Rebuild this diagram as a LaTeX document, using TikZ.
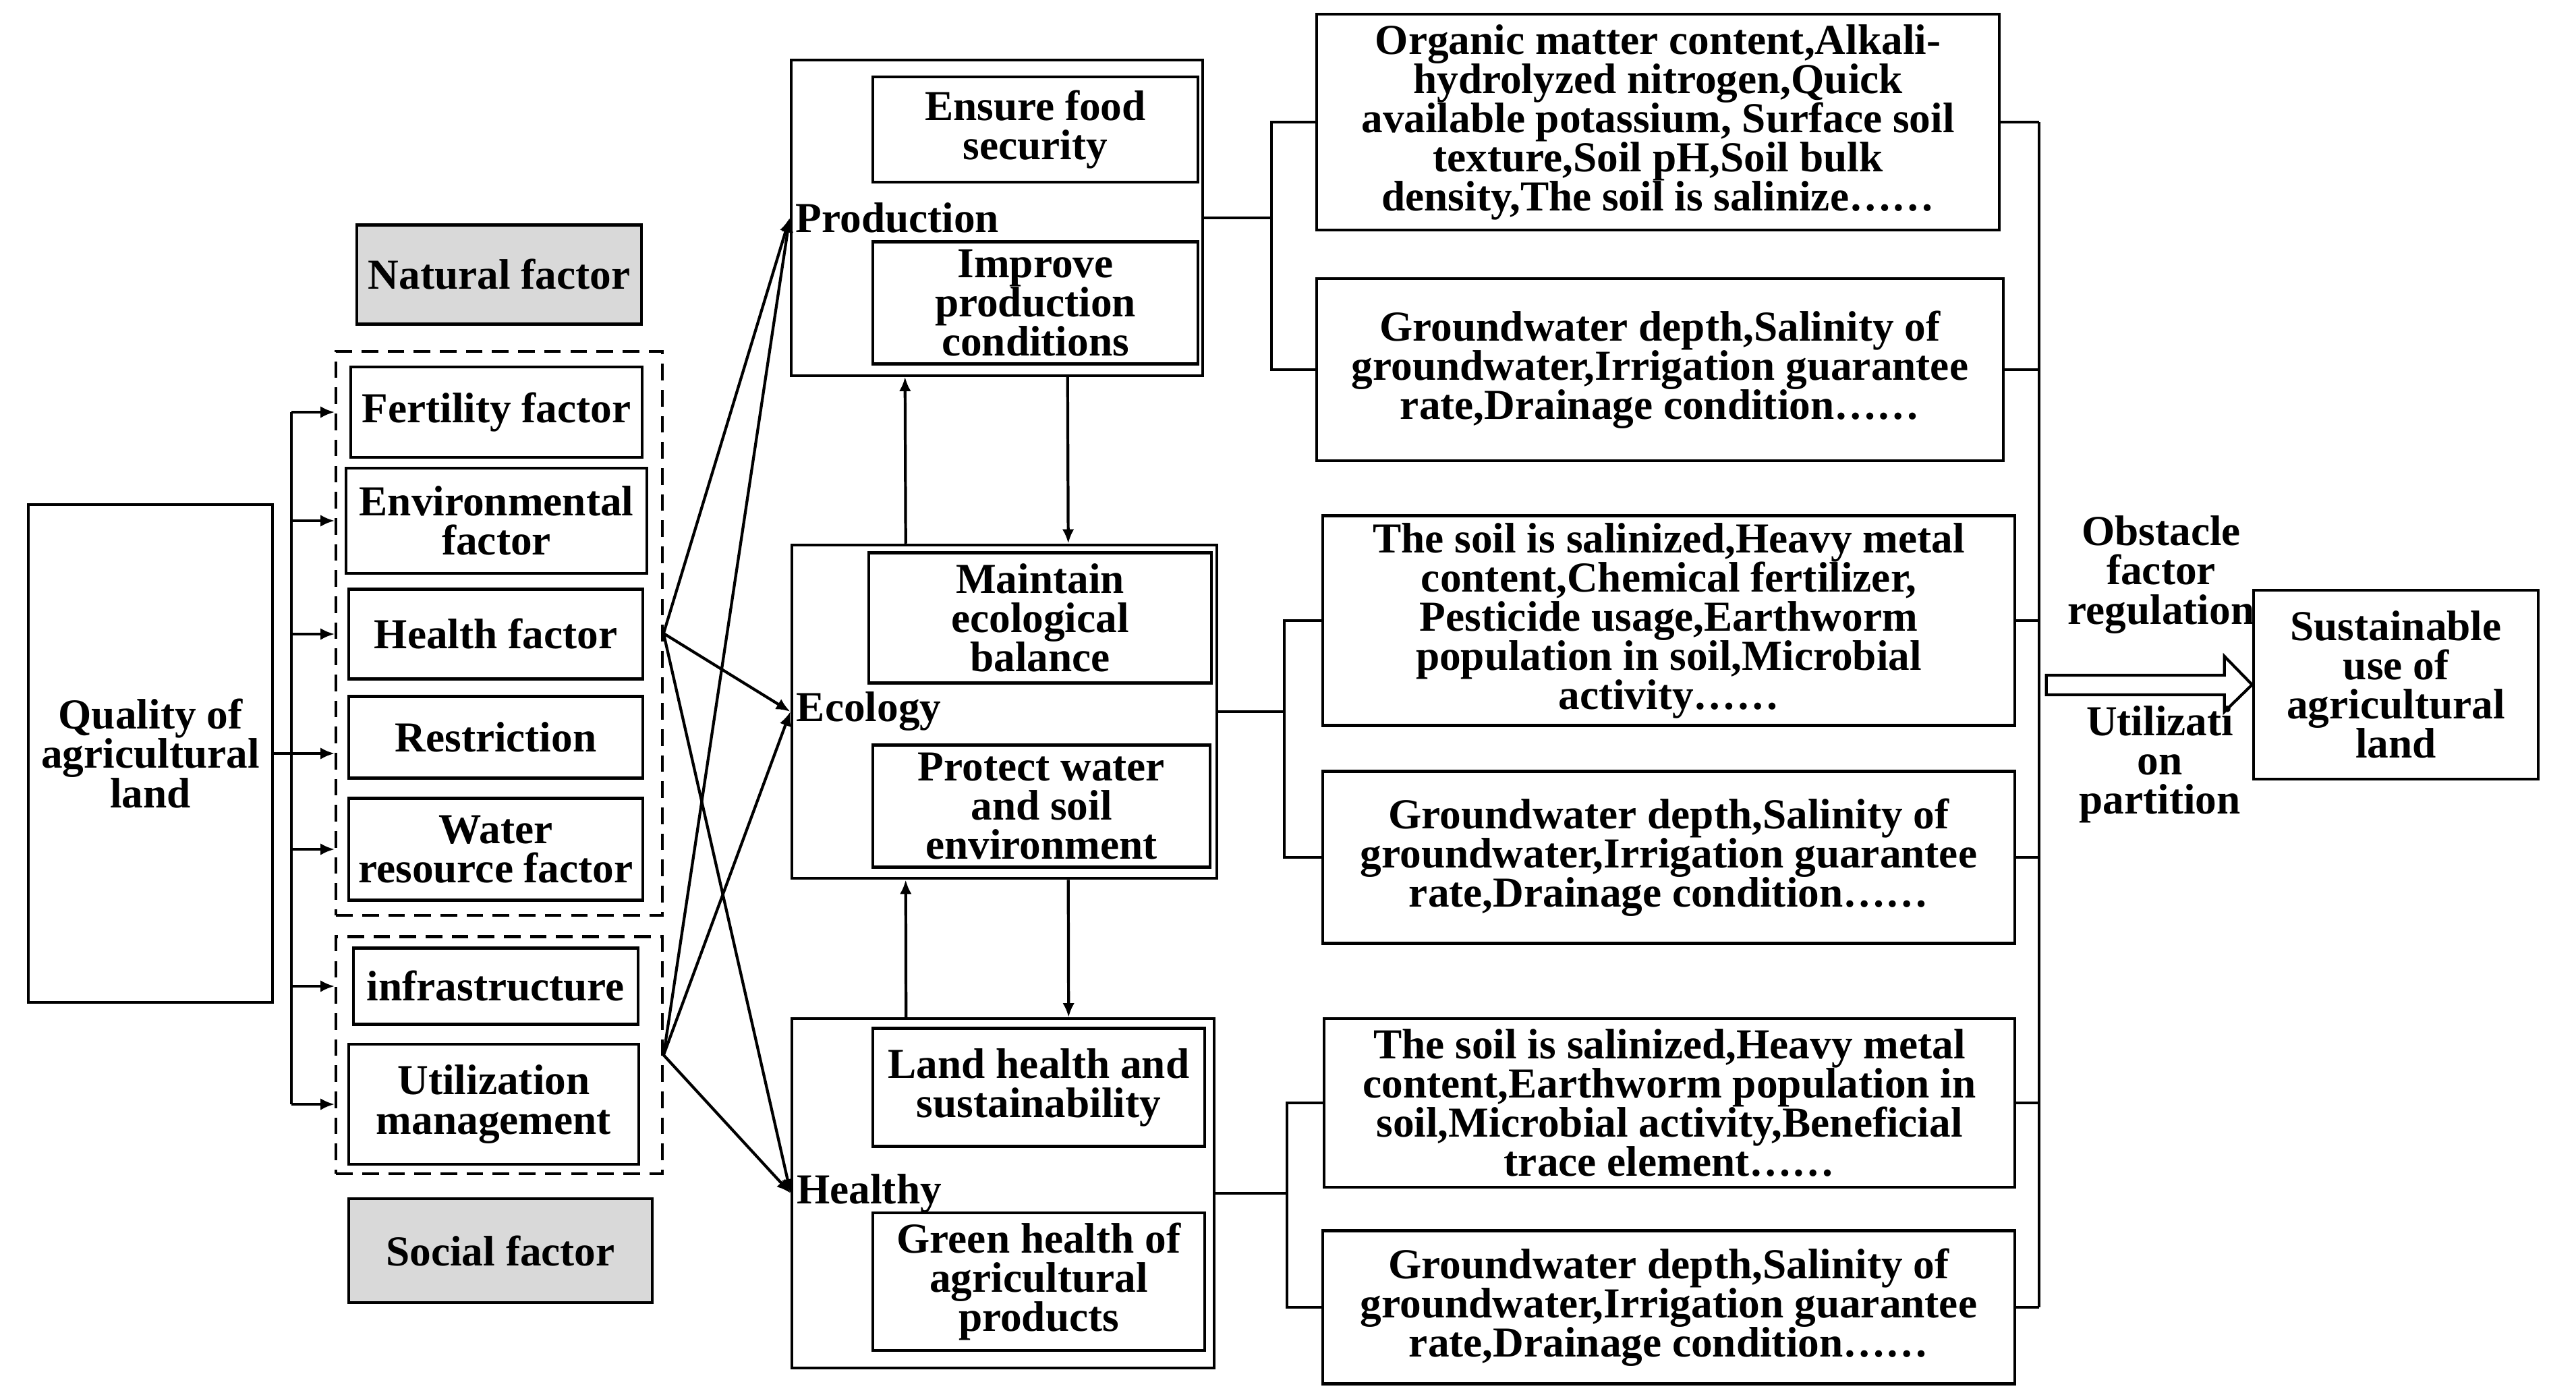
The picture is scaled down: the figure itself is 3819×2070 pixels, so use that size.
\documentclass[tikz,border=0pt]{standalone}
\usepackage{fontspec}
\setmainfont{Liberation Serif}
\usepackage{tikz}
\usetikzlibrary{arrows.meta, calc}
\definecolor{boxgray}{RGB}{217, 217, 217}
\newcommand\boxfont{\fontsize{18}{16.5}\selectfont\bfseries\lineskiplimit=-30pt\relax}

\begin{document}
\begin{tikzpicture}[x=0.01cm, y=-0.01cm, line width=1.2pt,
  >={Latex[length=6pt, width=5pt]},
  box/.style={draw, align=center, inner sep=0pt, font=\boxfont},
  group/.style={draw, dash pattern=on 7pt off 4pt, inner sep=0pt},
  lbl/.style={align=center, inner sep=2pt, font=\boxfont}]

  \useasboundingbox (0,0) rectangle (3819,2070);

  %Left column
  \node[box, minimum width=3.62cm, minimum height=7.38cm] (q) at (223,1117) {Quality of\\agricultural\\land};
  \node[box, fill=boxgray, minimum width=4.21cm, minimum height=1.47cm] (nat) at (740,407) {Natural factor};
  \node[box, minimum width=4.32cm, minimum height=1.34cm] (fert) at (736,611) {Fertility factor};
  \node[box, minimum width=4.45cm, minimum height=1.56cm] (env) at (736,772) {Environmental\\factor};
  \node[box, minimum width=4.35cm, minimum height=1.33cm] (hea) at (735,940) {Health factor};
  \node[box, minimum width=4.35cm, minimum height=1.21cm] (res) at (735,1093) {Restriction};
  \node[box, minimum width=4.35cm, minimum height=1.51cm] (wat) at (735,1259) {Water\\resource factor};
  \node[box, minimum width=4.22cm, minimum height=1.13cm] (inf) at (735,1462) {infrastructure};
  \node[box, minimum width=4.29cm, minimum height=1.78cm] (uti) at (732,1637) {Utilization\\management};
  \node[box, fill=boxgray, minimum width=4.50cm, minimum height=1.54cm] (soc) at (742,1854) {Social factor};
  \node[group, minimum width=4.83cm, minimum height=8.36cm] (d1) at (740,939) {};
  \node[group, minimum width=4.83cm, minimum height=3.51cm] (d2) at (740,1564) {};

  %Middle column
  \node[box, minimum width=6.10cm, minimum height=4.67cm] (prod) at (1478,323) {};
  \node[lbl, anchor=west] (prodl) at (prod.west) {Production};
  \node[box, minimum width=4.81cm, minimum height=1.56cm] (efs) at (1535,192) {Ensure food\\security};
  \node[box, minimum width=4.81cm, minimum height=1.81cm] (ipc) at (1535,449) {Improve\\production\\conditions};

  \node[box, minimum width=6.30cm, minimum height=4.94cm] (eco) at (1489,1055) {};
  \node[lbl, anchor=west] (ecol) at (eco.west) {Ecology};
  \node[box, minimum width=5.08cm, minimum height=1.93cm] (meb) at (1542,916) {Maintain\\ecological\\balance};
  \node[box, minimum width=4.99cm, minimum height=1.81cm] (pws) at (1544,1195) {Protect water\\and soil\\environment};

  \node[box, minimum width=6.25cm, minimum height=5.17cm] (hlt) at (1487,1769) {};
  \node[lbl, anchor=west] (hltl) at (hlt.west) {Healthy};
  \node[box, minimum width=4.92cm, minimum height=1.75cm] (lhs) at (1540,1612) {Land health and\\sustainability};
  \node[box, minimum width=4.91cm, minimum height=2.04cm] (ghp) at (1540,1900) {Green health of\\agricultural\\products};

  %Indicators
  \node[box, minimum width=10.11cm, minimum height=3.20cm] (r1) at (2458,181) {Organic matter content,Alkali-\\hydrolyzed nitrogen,Quick\\available potassium, Surface soil\\texture,Soil pH,Soil bulk\\density,The soil is salinize……};
  \node[box, minimum width=10.17cm, minimum height=2.70cm] (r2) at (2461,548) {Groundwater depth,Salinity of\\groundwater,Irrigation guarantee\\rate,Drainage condition……};
  \node[box, minimum width=10.26cm, minimum height=3.11cm] (r3) at (2474,920) {The soil is salinized,Heavy metal\\content,Chemical fertilizer,\\Pesticide usage,Earthworm\\population in soil,Microbial\\activity……};
  \node[box, minimum width=10.26cm, minimum height=2.55cm] (r4) at (2474,1271) {Groundwater depth,Salinity of\\groundwater,Irrigation guarantee\\rate,Drainage condition……};
  \node[box, minimum width=10.24cm, minimum height=2.50cm] (r5) at (2475,1635) {The soil is salinized,Heavy metal\\content,Earthworm population in\\soil,Microbial activity,Beneficial\\trace element……};
  \node[box, minimum width=10.26cm, minimum height=2.27cm] (r6) at (2474,1938) {Groundwater depth,Salinity of\\groundwater,Irrigation guarantee\\rate,Drainage condition……};

  \node[box, minimum width=4.22cm, minimum height=2.80cm] (sus) at (3552,1015) {Sustainable\\use of\\agricultural\\land};
  \node[lbl] (obs) at (3204,852) {Obstacle\\factor\\regulation};
  \node[lbl] (utp) at (3202,1133) {Utilizati\\on\\partition};

  %Quality to factors
  \coordinate (t) at ($(q.east)+(26,0)$);
  \draw (q.east) -- (t);
  \draw (t |- fert.west) -- (t |- uti.west);
  \foreach \b in {fert, env, hea, wat, inf, uti}
    \draw[->] (t |- \b.west) -- (d1.west |- \b.west);
  \draw[->] (t) -- (t -| d1.west);

  %Factors to functions
  \foreach \s in {d1, d2}
    \foreach \m in {prod, eco, hlt}
      \draw[->] (\s.east) -- (\m.west);

  \draw[->] ($(eco.north west)+(171,0)$) -- ($(prod.south west)+(171,0)$);
  \draw[->] ($(prod.south west)+(412,0)$) -- ($(eco.north west)+(412,0)$);
  \draw[->] ($(hlt.north west)+(171,0)$) -- ($(eco.south west)+(171,0)$);
  \draw[->] ($(eco.south west)+(412,0)$) -- ($(hlt.north west)+(412,0)$);

  %Functions to indicators
  \coordinate (bp) at ($(prod.east)+(100,0)$);
  \coordinate (be) at ($(eco.east)+(98,0)$);
  \coordinate (bh) at ($(hlt.east)+(106,0)$);
  \draw (prod.east) -- (bp);
  \draw (r1.west) -| (bp) |- (r2.west);
  \draw (eco.east) -- (be);
  \draw (r3.west) -| (be) |- (r4.west);
  \draw (hlt.east) -- (bh);
  \draw (r5.west) -| (bh) |- (r6.west);

  %Indicators to sustainable use
  \coordinate (rb) at (3023,1014);
  \foreach \r in {r1, r2, r3, r4, r5, r6}
    \draw (\r.east) -- (\r.east -| rb);
  \draw (r1.east -| rb) -- (r6.east -| rb);
  \draw[line join=miter] (sus.west) -- ++(-41,-42) -- ++(0,28) -- ++(-264,0) -- ++(0,29) -- ++(264,0) -- ++(0,25) -- cycle;
\end{tikzpicture}
\end{document}
